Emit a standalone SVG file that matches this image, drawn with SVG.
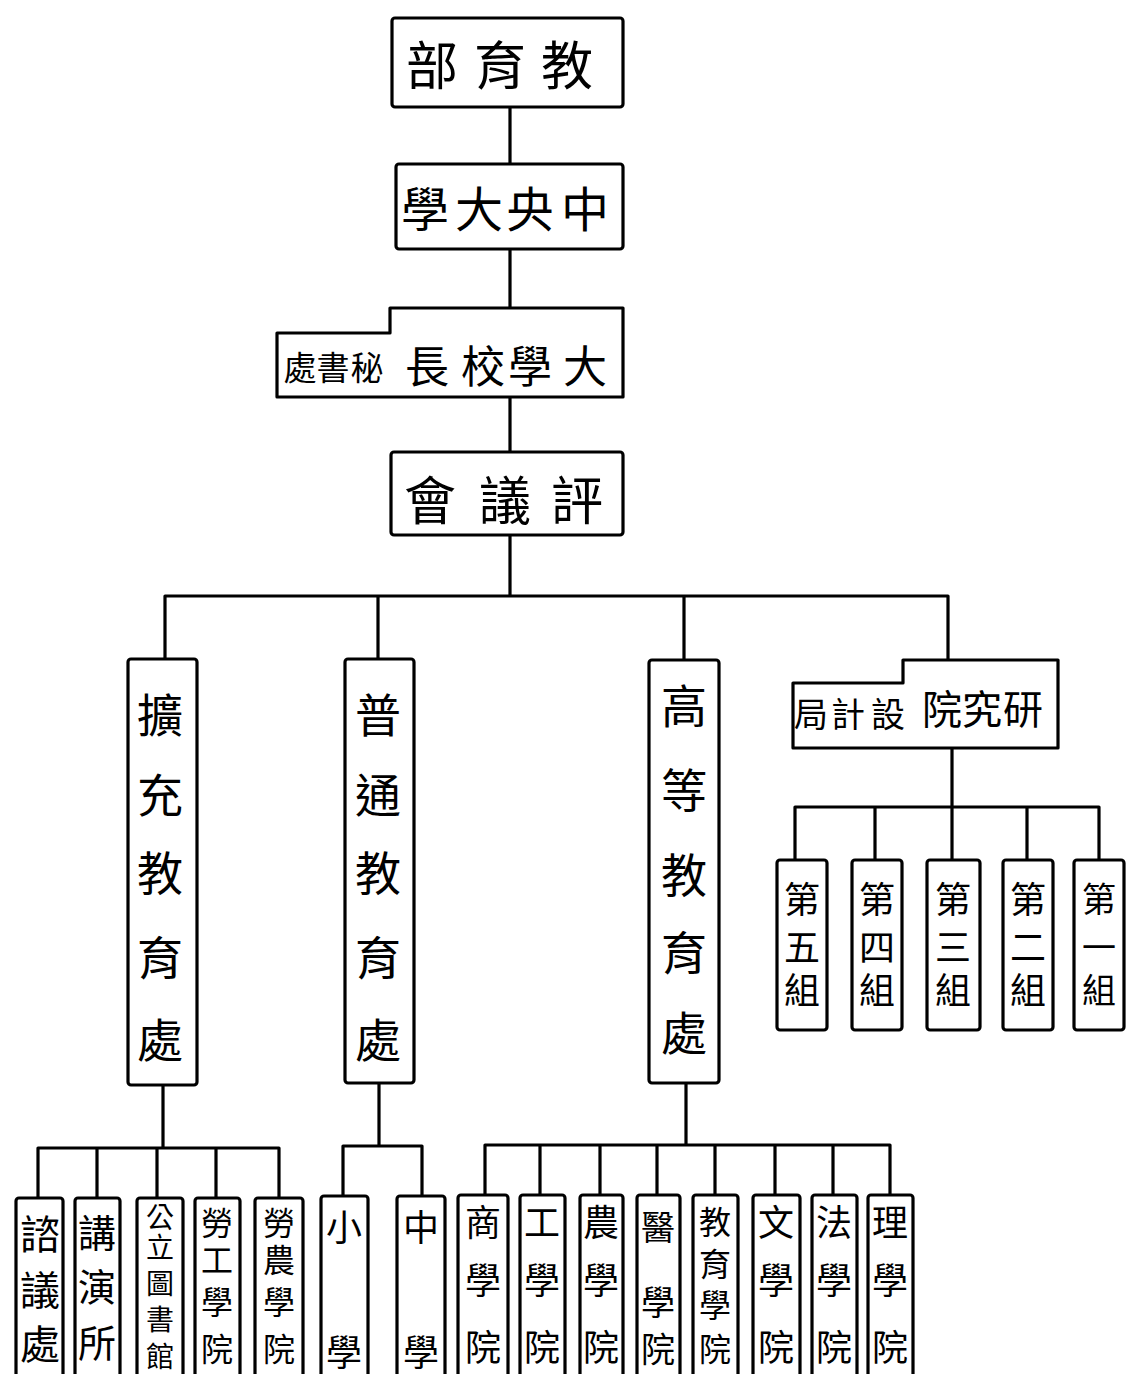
<svg xmlns="http://www.w3.org/2000/svg" width="1127" height="1374" viewBox="0 0 1127 1374">
<style>
.box{fill:#fff;stroke:#000;stroke-width:3.2;stroke-linejoin:round}
.ln{fill:none;stroke:#000;stroke-width:3.2;stroke-linejoin:round}
text{font-family:"Noto Sans CJK TC","Noto Sans CJK SC",sans-serif;fill:#000;text-anchor:middle;dominant-baseline:central}
</style>
<rect width="1127" height="1374" fill="#fff"/>
<g id="connectors" class="ln">
<path d="M510 107V164M510 249V308M510 397V452M510 535V596"/>
<path d="M165 658V596H948V660M378 596V659M684 596V660"/>
<path d="M163 1085V1148M38 1198V1148H279V1198M97 1148V1198M157 1148V1198M216 1148V1198"/>
<path d="M379 1083V1146M343 1196V1146H422V1196"/>
<path d="M686 1083V1145M485 1195V1145H890V1195M540 1145V1195M600 1145V1195M657 1145V1195M715 1145V1195M775 1145V1195M833 1145V1195"/>
<path d="M952 748V807M795 860V807H1099V860M875 807V860M952 807V860M1027 807V860"/>
</g>
<g id="n-jiaoyubu"><rect class="box" x="392" y="18" width="231" height="89" rx="3"/><text x="567 500 432" y="62" font-size="52">教育部</text></g>
<g id="n-zhongyang"><rect class="box" x="396" y="164" width="227" height="85" rx="3"/><text x="585 530 479 425" y="206" font-size="48">中央大學</text></g>
<g id="n-xiaozhang"><path class="box" d="M277 333H390V308H623V397H277Z"/><text x="585 530 483 427" y="364" font-size="44">大學校長</text><text x="367 333 300" y="366" font-size="33">秘書處</text></g>
<g id="n-pingyihui"><rect class="box" x="391" y="452" width="232" height="83" rx="3"/><text x="577 505 430" y="497" font-size="52">評議會</text></g>
<g id="n-kuochong"><rect class="box" x="128" y="659" width="69" height="426" rx="3"/><text x="160 160 160 160 160" y="712 792 870 955 1037" font-size="46">擴充教育處</text></g>
<g id="n-putong"><rect class="box" x="345" y="659" width="69" height="424" rx="3"/><text x="378 378 378 378 378" y="712 792 870 955 1037" font-size="46">普通教育處</text></g>
<g id="n-gaodeng"><rect class="box" x="649" y="660" width="70" height="423" rx="3"/><text x="684 684 684 684 684" y="703 787 872 950 1030" font-size="46">高等教育處</text></g>
<g id="n-yanjiuyuan"><path class="box" d="M793 683H903V660H1058V748H793Z"/><text x="1023 982 942" y="707" font-size="40">研究院</text><text x="888 848 811" y="712" font-size="34">設計局</text></g>
<g id="n-zu5"><rect class="box" x="777" y="860" width="50" height="170" rx="3"/><text x="802 802 802" y="897 945 988" font-size="36">第五組</text></g>
<g id="n-zu4"><rect class="box" x="852" y="860" width="50" height="170" rx="3"/><text x="877 877 877" y="897 945 988" font-size="36">第四組</text></g>
<g id="n-zu3"><rect class="box" x="927" y="860" width="53" height="170" rx="3"/><text x="953 953 953" y="897 945 988" font-size="36">第三組</text></g>
<g id="n-zu2"><rect class="box" x="1003" y="860" width="50" height="170" rx="3"/><text x="1028 1028 1028" y="897 945 988" font-size="36">第二組</text></g>
<g id="n-zu1"><rect class="box" x="1074" y="860" width="50" height="170" rx="3"/><text x="1099 1099 1099" y="897 945 988" font-size="34">第一組</text></g>
<g id="n-ziyichu"><rect class="box" x="16" y="1198" width="47" height="200" rx="3"/><text x="40 40 40" y="1232 1288 1342" font-size="40">諮議處</text></g>
<g id="n-jiangyansuo"><rect class="box" x="75" y="1198" width="45" height="200" rx="3"/><text x="97 97 97" y="1230 1284 1340" font-size="38">講演所</text></g>
<g id="n-tushuguan"><rect class="box" x="137" y="1198" width="46" height="200" rx="3"/><text x="160 160 160 160 160" y="1216 1246 1282 1318 1355" font-size="28">公立圖書館</text></g>
<g id="n-laogong"><rect class="box" x="195" y="1198" width="45" height="200" rx="3"/><text x="217 217 217 217" y="1221 1258 1300 1347" font-size="32">勞工學院</text></g>
<g id="n-laonong"><rect class="box" x="255" y="1198" width="48" height="200" rx="3"/><text x="279 279 279 279" y="1221 1258 1300 1347" font-size="32">勞農學院</text></g>
<g id="n-xiaoxue"><rect class="box" x="321" y="1196" width="47" height="200" rx="3"/><text x="344 344" y="1225 1350" font-size="36">小學</text></g>
<g id="n-zhongxue"><rect class="box" x="397" y="1196" width="48" height="200" rx="3"/><text x="421 421" y="1225 1350" font-size="36">中學</text></g>
<g id="n-shang"><rect class="box" x="458" y="1195" width="50" height="200" rx="3"/><text x="483 483 483" y="1220 1278 1345" font-size="36">商學院</text></g>
<g id="n-gong"><rect class="box" x="520" y="1195" width="45" height="200" rx="3"/><text x="542 542 542" y="1220 1278 1345" font-size="36">工學院</text></g>
<g id="n-nong"><rect class="box" x="580" y="1195" width="43" height="200" rx="3"/><text x="601 601 601" y="1220 1278 1345" font-size="36">農學院</text></g>
<g id="n-yi"><rect class="box" x="637" y="1195" width="43" height="200" rx="3"/><text x="658 658 658" y="1225 1300 1347" font-size="34">醫學院</text></g>
<g id="n-jiaoyu"><rect class="box" x="693" y="1195" width="45" height="200" rx="3"/><text x="715 715 715 715" y="1220 1262 1303 1347" font-size="32">教育學院</text></g>
<g id="n-wen"><rect class="box" x="753" y="1195" width="47" height="200" rx="3"/><text x="776 776 776" y="1220 1278 1345" font-size="36">文學院</text></g>
<g id="n-fa"><rect class="box" x="812" y="1195" width="45" height="200" rx="3"/><text x="834 834 834" y="1220 1278 1345" font-size="36">法學院</text></g>
<g id="n-li"><rect class="box" x="868" y="1195" width="45" height="200" rx="3"/><text x="890 890 890" y="1220 1278 1345" font-size="36">理學院</text></g>
</svg>
